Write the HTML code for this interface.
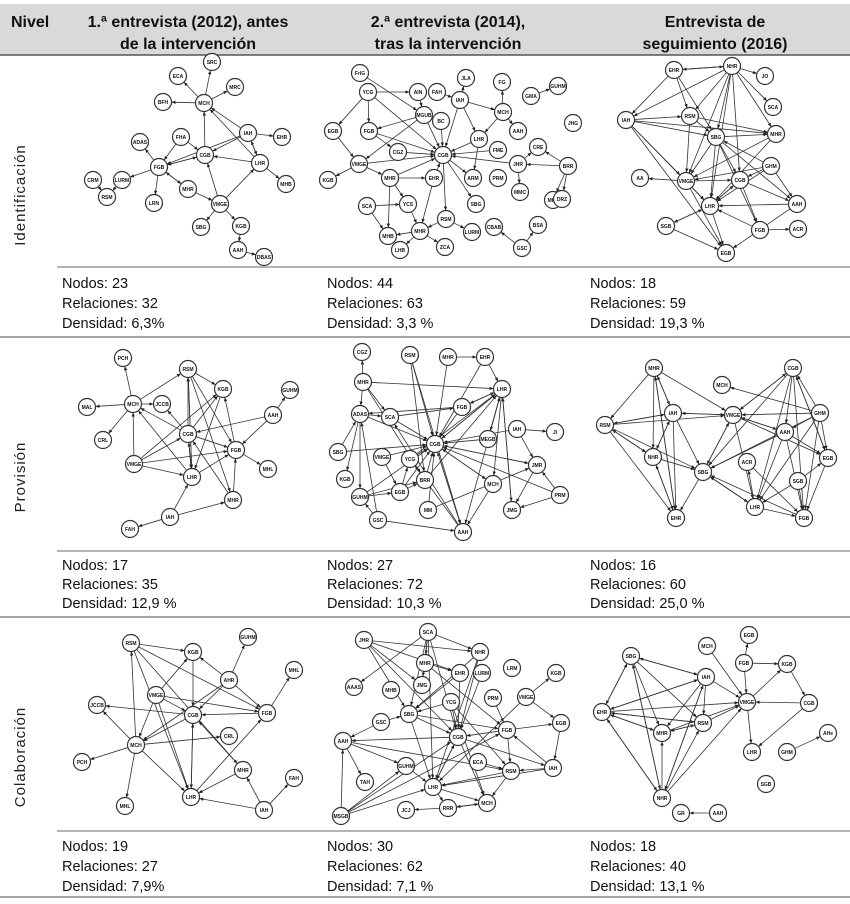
<!DOCTYPE html>
<html><head><meta charset="utf-8"><style>
html,body{margin:0;padding:0;background:#fff;}
svg{display:block;font-family:"Liberation Sans Narrow","Liberation Sans",sans-serif;}
.hd{font-weight:bold;font-size:16px;fill:#111;}
.st{font-size:14.5px;fill:#111;}
.rl{font-size:15px;fill:#222;letter-spacing:1px;}
.nd circle{fill:#fff;stroke:#333;stroke-width:1.2;}
.nd text{font-size:5px;font-weight:bold;fill:#111;text-anchor:middle;}
.ed{stroke:#333;stroke-width:0.8;fill:none;}
</style></head><body>
<svg id="root" width="850" height="904" viewBox="0 0 850 904">
<defs><marker id="ar" viewBox="0 0 6 6" refX="6" refY="3" markerWidth="5" markerHeight="5" orient="auto"><path d="M0,0.5 L6,3 L0,5.5 z" fill="#222"/></marker></defs>
<rect x="0" y="4" width="850" height="51" fill="#d9d9d9"/>
<line x1="0" y1="55" x2="850" y2="55" stroke="#555" stroke-width="1.5"/>
<text class="hd" x="11" y="27">Nivel</text>
<text class="hd" x="188" y="27" text-anchor="middle">1.ª entrevista (2012), antes<tspan x="188" y="49">de la intervención</tspan></text>
<text class="hd" x="448" y="27" text-anchor="middle">2.ª entrevista (2014),<tspan x="448" y="49">tras la intervención</tspan></text>
<text class="hd" x="715" y="27" text-anchor="middle">Entrevista de<tspan x="715" y="49">seguimiento (2016)</tspan></text>

<line x1="57" y1="267" x2="850" y2="267" stroke="#888" stroke-width="1.3"/>
<line x1="0" y1="337" x2="850" y2="337" stroke="#888" stroke-width="1.5"/>
<line x1="57" y1="551" x2="850" y2="551" stroke="#888" stroke-width="1.3"/>
<line x1="0" y1="617" x2="850" y2="617" stroke="#888" stroke-width="1.5"/>
<line x1="57" y1="831" x2="850" y2="831" stroke="#888" stroke-width="1.3"/>
<line x1="0" y1="897" x2="850" y2="897" stroke="#888" stroke-width="1.5"/>

<text class="rl" transform="translate(25,195) rotate(-90)" text-anchor="middle">Identificación</text>
<text class="rl" transform="translate(25,477) rotate(-90)" text-anchor="middle">Provisión</text>
<text class="rl" transform="translate(25,757) rotate(-90)" text-anchor="middle">Colaboración</text>

<g><text class="st" x="62" y="288">Nodos: 23</text><text class="st" x="62" y="308">Relaciones: 32</text><text class="st" x="62" y="328">Densidad: 6,3%</text></g>
<g><text class="st" x="327" y="288">Nodos: 44</text><text class="st" x="327" y="308">Relaciones: 63</text><text class="st" x="327" y="328">Densidad: 3,3 %</text></g>
<g><text class="st" x="590" y="288">Nodos: 18</text><text class="st" x="590" y="308">Relaciones: 59</text><text class="st" x="590" y="328">Densidad: 19,3 %</text></g>
<g><text class="st" x="62" y="570">Nodos: 17</text><text class="st" x="62" y="589">Relaciones: 35</text><text class="st" x="62" y="608">Densidad: 12,9 %</text></g>
<g><text class="st" x="327" y="570">Nodos: 27</text><text class="st" x="327" y="589">Relaciones: 72</text><text class="st" x="327" y="608">Densidad: 10,3 %</text></g>
<g><text class="st" x="590" y="570">Nodos: 16</text><text class="st" x="590" y="589">Relaciones: 60</text><text class="st" x="590" y="608">Densidad: 25,0 %</text></g>
<g><text class="st" x="62" y="851">Nodos: 19</text><text class="st" x="62" y="871">Relaciones: 27</text><text class="st" x="62" y="891">Densidad: 7,9%</text></g>
<g><text class="st" x="327" y="851">Nodos: 30</text><text class="st" x="327" y="871">Relaciones: 62</text><text class="st" x="327" y="891">Densidad: 7,1 %</text></g>
<g><text class="st" x="590" y="851">Nodos: 18</text><text class="st" x="590" y="871">Relaciones: 40</text><text class="st" x="590" y="891">Densidad: 13,1 %</text></g>
</svg>
<script>
// Node lists: [name, x, y]; edge lists: [from, to]
const n11=[["ECA",178,76],["SRC",212,62],["MRC",235,87],["BFH",163,102],["MCH",204,103],["FHA",181,137],["ADAS",140,142],["IAH",248,133],["EHR",282,137],["CGB",205,155],["FGB",159,167],["LHR",260,163],["LURM",122,180],["CRM",93,180],["RSM",107,197],["MHR",188,189],["MHB",286,184],["LRN",154,203],["VMGE",220,204],["SBG",201,227],["KGB",241,226],["AAH",238,250],["DBAS",264,257]];
const e11=[["MCH","ECA"],["MCH","SRC"],["MCH","MRC"],["MCH","BFH"],["CGB","MCH"],["FHA","CGB"],["FGB","ADAS"],["FGB","CGB"],["IAH","EHR"],["IAH","CGB"],["IAH","FGB"],["IAH","MCH"],["LHR","CGB"],["LHR","IAH"],["LHR","MHB"],["LHR","MCH"],["FGB","LURM"],["LURM","RSM"],["CRM","RSM"],["FGB","LRN"],["MHR","FGB"],["VMGE","CGB"],["VMGE","LHR"],["VMGE","SBG"],["VMGE","KGB"],["MHR","VMGE"],["KGB","AAH"],["AAH","DBAS"],["FHA","FGB"],["FGB","MHR"],["CGB","FGB"],["IAH","LHR"]];
const n12=[["FrIG",360,73],["YCG",368,92],["AIN",418,92],["FAH",437,92],["JLA",466,78],["IAH",460,100],["FG",502,82],["GUHM",558,86],["GMA",531,96],["MCH",503,112],["MGUB",424,115],["BC",441,121],["JHG",573,123],["EGB",333,131],["FGB",369,131],["AAH",518,131],["LHR",479,139],["CGZ",398,152],["CGB",443,155],["FME",498,150],["CRE",538,147],["VMGE",359,164],["JHR",518,164],["BRR",568,166],["KGB",328,180],["MHR",390,178],["EHR",434,178],["ARM",473,178],["PRM",498,178],["MMC",520,192],["MKZ",553,200],["DRZ",562,199],["SCA",367,206],["YCS",408,204],["SBG",476,204],["RSM",446,219],["MHB",388,236],["MHR2",420,231],["LURM",472,232],["CBAB",494,227],["BSA",538,225],["LHB",400,250],["ZCA",445,247],["GSC",522,248]];
const e12=[["FrIG","MGUB"],["YCG","AIN"],["YCG","FGB"],["YCG","EGB"],["YCG","CGB"],["AIN","MGUB"],["FAH","IAH"],["IAH","JLA"],["IAH","MCH"],["IAH","CGB"],["MCH","FG"],["MCH","AAH"],["MCH","LHR"],["GMA","GUHM"],["MGUB","FGB"],["MGUB","CGB"],["MGUB","VMGE"],["BC","CGB"],["EGB","VMGE"],["FGB","CGZ"],["FGB","CGB"],["CGZ","CGB"],["VMGE","KGB"],["VMGE","MHR"],["VMGE","CGB"],["LHR","CGB"],["LHR","ARM"],["FME","CGB"],["JHR","CGB"],["JHR","CRE"],["JHR","MMC"],["BRR","CRE"],["BRR","MKZ"],["BRR","DRZ"],["BRR","JHR"],["MHR","EHR"],["MHR","YCS"],["MHR","MHB"],["EHR","CGB"],["EHR","MHR2"],["CGB","SBG"],["CGB","ARM"],["CGB","RSM"],["SCA","YCS"],["SCA","MHB"],["MHR2","MHB"],["MHR2","LHB"],["MHR2","ZCA"],["RSM","MHR2"],["RSM","LURM"],["YCS","MHR2"],["GSC","CBAB"],["GSC","BSA"],["IAH","LHR"],["MHR","CGB"]];
const n13=[["EHR",674,70],["NHR",732,66],["JO",765,76],["RSM",690,116],["SCA",773,107],["IAH",626,120],["SBG",716,137],["MHR",776,134],["AA",640,178],["VMGE",686,181],["GHM",771,166],["CGB",740,180],["AAH",797,204],["LHR",710,206],["SGB",666,226],["FGB",760,230],["ACR",798,229],["EGB",726,253]];
const e13=[["EHR","NHR"],["NHR","EHR"],["EHR","IAH"],["EHR","RSM"],["EHR","SBG"],["NHR","JO"],["NHR","SCA"],["NHR","MHR"],["NHR","RSM"],["NHR","SBG"],["NHR","IAH"],["NHR","VMGE"],["NHR","LHR"],["NHR","CGB"],["IAH","RSM"],["IAH","SBG"],["IAH","MHR"],["IAH","VMGE"],["IAH","EGB"],["RSM","SBG"],["RSM","MHR"],["RSM","VMGE"],["SBG","MHR"],["SBG","VMGE"],["SBG","CGB"],["SBG","LHR"],["SBG","FGB"],["SBG","AAH"],["MHR","VMGE"],["MHR","LHR"],["VMGE","AA"],["VMGE","CGB"],["VMGE","LHR"],["VMGE","EGB"],["GHM","CGB"],["GHM","LHR"],["GHM","VMGE"],["GHM","AAH"],["GHM","SBG"],["CGB","LHR"],["CGB","AAH"],["CGB","FGB"],["AAH","LHR"],["AAH","EGB"],["LHR","SGB"],["LHR","CGB"],["SGB","EGB"],["SGB","LHR"],["FGB","ACR"],["FGB","LHR"],["LHR","EGB"],["IAH","LHR"]];
const n21=[["PCH",123,358],["RSM",188,369],["KGB",223,389],["GUHM",290,390],["MCH",133,404],["JCCB",162,404],["MAL",87,407],["AAH",273,415],["CGB",188,434],["CRL",103,440],["FGB",236,450],["VMGE",134,464],["MHL",268,469],["LHR",192,477],["MHR",233,500],["IAH",170,517],["FAH",130,529]];
const e21=[["MCH","PCH"],["MCH","MAL"],["MCH","JCCB"],["MCH","CRL"],["MCH","RSM"],["RSM","KGB"],["RSM","FGB"],["CGB","RSM"],["AAH","GUHM"],["AAH","CGB"],["AAH","FGB"],["CGB","MCH"],["CGB","KGB"],["VMGE","MCH"],["VMGE","CGB"],["VMGE","KGB"],["VMGE","FGB"],["VMGE","LHR"],["LHR","CGB"],["LHR","FGB"],["LHR","MCH"],["FGB","MHL"],["FGB","KGB"],["MHR","FGB"],["MHR","CGB"],["IAH","LHR"],["IAH","FAH"],["IAH","MHR"],["CGB","JCCB"],["LHR","RSM"],["KGB","LHR"],["CGB","LHR"],["RSM","MHR"],["CGB","FGB"],["RSM","LHR"]];
const n22=[["CGZ",362,352],["RSM",410,355],["MHR",448,357],["EHR",485,357],["MHR2",363,382],["LHR",502,389],["FGB",462,407],["ADAS",360,414],["SCA",390,417],["CGB",435,444],["MEGB",488,439],["IAH",517,429],["JI",555,432],["SBG",338,452],["VMGE",382,457],["YCG",410,459],["KGB",345,479],["JMR",537,465],["BRR",425,480],["EGB",400,492],["MCH",493,484],["GUHM",360,497],["PRM",560,495],["MM",428,510],["GSC",378,520],["JMG",512,510],["AAH",463,532]];
const e22=[["RSM","CGB"],["MHR","CGB"],["EHR","CGB"],["LHR","CGB"],["FGB","CGB"],["ADAS","CGB"],["SCA","CGB"],["MEGB","CGB"],["IAH","CGB"],["SBG","CGB"],["VMGE","CGB"],["YCG","CGB"],["JMR","CGB"],["BRR","CGB"],["EGB","CGB"],["MCH","CGB"],["PRM","CGB"],["AAH","CGB"],["MM","CGB"],["GUHM","CGB"],["MHR2","CGZ"],["MHR2","LHR"],["MHR2","ADAS"],["MHR","EHR"],["EHR","LHR"],["LHR","FGB"],["LHR","AAH"],["LHR","MEGB"],["LHR","JMG"],["IAH","JI"],["IAH","JMR"],["JMR","JMG"],["PRM","JMG"],["PRM","JMR"],["ADAS","SCA"],["ADAS","KGB"],["SBG","ADAS"],["GUHM","EGB"],["GSC","AAH"],["GSC","GUHM"],["EGB","BRR"],["VMGE","EGB"],["AAH","YCG"],["AAH","SCA"],["FGB","ADAS"],["MCH","AAH"],["BRR","LHR"],["YCG","LHR"],["RSM","AAH"],["CGB","LHR"],["FGB","LHR"],["MEGB","LHR"],["MHR2","SCA"],["MHR2","BRR"],["GSC","ADAS"],["ADAS","GUHM"],["SCA","FGB"],["CGB","JMR"],["CGB","AAH"],["JMG","LHR"],["MM","JMR"],["RSM","BRR"],["EGB","YCG"],["GUHM","BRR"],["CGB","MCH"],["LHR","MCH"]];
const n23=[["MHR",654,368],["MCH",722,385],["CGB",793,368],["IAH",673,413],["VMGE",733,415],["GHM",820,413],["RSM",605,425],["AAH",785,432],["NHR",653,457],["SBG",703,472],["ACR",747,462],["EGB",828,458],["SGB",798,481],["LHR",755,507],["FGB",804,518],["EHR",676,518]];
const e23=[["MHR","RSM"],["MHR","NHR"],["MHR","EHR"],["MHR","VMGE"],["MHR","IAH"],["IAH","VMGE"],["IAH","RSM"],["IAH","NHR"],["IAH","SBG"],["IAH","EHR"],["RSM","VMGE"],["RSM","SBG"],["RSM","EHR"],["NHR","RSM"],["NHR","SBG"],["VMGE","SBG"],["VMGE","AAH"],["VMGE","CGB"],["VMGE","EGB"],["GHM","MCH"],["GHM","VMGE"],["GHM","CGB"],["GHM","AAH"],["GHM","SBG"],["GHM","LHR"],["CGB","AAH"],["CGB","SBG"],["CGB","LHR"],["CGB","FGB"],["AAH","SBG"],["AAH","LHR"],["AAH","EGB"],["AAH","FGB"],["EGB","FGB"],["SGB","LHR"],["SGB","FGB"],["ACR","FGB"],["FGB","SBG"],["LHR","FGB"],["EGB","CGB"],["SBG","EHR"],["EHR","NHR"],["NHR","EHR"],["SBG","LHR"],["VMGE","LHR"],["GHM","FGB"],["CGB","EGB"],["IAH","MHR"],["RSM","IAH"],["VMGE","IAH"],["LHR","ACR"],["SBG","VMGE"],["AAH","VMGE"],["GHM","EGB"],["CGB","VMGE"],["NHR","IAH"],["EHR","MHR"],["RSM","NHR"],["SGB","EGB"],["LHR","SBG"]];
const n31=[["RSM",131,643],["KGB",193,652],["GUHM",248,637],["MHL",294,670],["AHR",229,680],["VMGE",156,695],["JCCB",97,705],["CGB",193,715],["FGB",267,713],["CRL",229,736],["MCH",136,745],["PCH",82,762],["MHR",243,770],["FAH",294,778],["MHL2",125,806],["LHR",191,797],["IAH",264,810]];
const e31=[["RSM","KGB"],["RSM","FGB"],["RSM","LHR"],["RSM","MHR"],["AHR","GUHM"],["AHR","KGB"],["AHR","FGB"],["AHR","CGB"],["VMGE","CGB"],["VMGE","MCH"],["VMGE","LHR"],["VMGE","FGB"],["VMGE","KGB"],["CGB","JCCB"],["FGB","CGB"],["FGB","MHL"],["CGB","MCH"],["MCH","RSM"],["MCH","PCH"],["MCH","MHL2"],["MCH","JCCB"],["MCH","CRL"],["MCH","LHR"],["CGB","LHR"],["LHR","CGB"],["MHR","CGB"],["MHR","LHR"],["LHR","FGB"],["IAH","LHR"],["IAH","FAH"],["IAH","MHR"],["KGB","CGB"],["AHR","MCH"]];
const n32=[["JHR",364,640],["SCA",428,632],["NHR",480,652],["MHR",425,663],["EHR",460,673],["LURM",482,673],["LRM",512,668],["KGB",556,673],["AAAS",354,687],["MHB",391,690],["JMG",422,685],["PRM",493,698],["VMGE",526,697],["YCG",451,702],["SBG",409,714],["GSC",381,722],["FGB",507,730],["EGB",561,723],["CGB",458,737],["AAH",343,741],["GUHM",406,766],["ECA",478,762],["RSM",511,771],["IAH",553,768],["TAH",365,782],["LHR",433,787],["MCH",487,803],["JCJ",406,810],["RRR",448,808],["MSGB",341,816]];
const e32=[["JHR","NHR"],["JHR","JMG"],["JHR","EHR"],["JHR","CGB"],["SCA","NHR"],["SCA","AAAS"],["SCA","SBG"],["SCA","CGB"],["SCA","LHR"],["SCA","MHR"],["MHR","EHR"],["NHR","LHR"],["NHR","SBG"],["EHR","CGB"],["LURM","CGB"],["PRM","FGB"],["VMGE","KGB"],["VMGE","EGB"],["VMGE","LHR"],["YCG","SBG"],["YCG","CGB"],["YCG","RSM"],["SBG","CGB"],["SBG","LHR"],["GSC","AAH"],["GSC","SBG"],["FGB","EGB"],["FGB","CGB"],["FGB","RSM"],["CGB","MCH"],["CGB","AAH"],["CGB","IAH"],["AAH","GUHM"],["AAH","TAH"],["MSGB","AAH"],["MSGB","LHR"],["MSGB","CGB"],["MSGB","FGB"],["MSGB","GUHM"],["GUHM","LHR"],["ECA","RSM"],["RSM","LHR"],["IAH","RSM"],["IAH","LHR"],["IAH","FGB"],["LHR","MCH"],["LHR","RRR"],["RRR","MCH"],["RRR","JCJ"],["MCH","RRR"],["RSM","MCH"],["EGB","IAH"],["SCA","JMG"],["NHR","CGB"],["JHR","SBG"],["MHR","FGB"],["CGB","LHR"],["SBG","FGB"],["AAH","RSM"],["LHR","CGB"],["EHR","SBG"],["YCG","MCH"]];
const n33=[["EGB",749,635],["MCH",707,646],["SBG",631,656],["FGB",744,663],["KGB",787,664],["IAH",706,677],["VMGE",747,702],["CGB",809,703],["EHR",602,712],["RSM",703,723],["MHR",662,733],["AHe",828,733],["LHR",752,752],["GHM",787,752],["SGB",766,784],["NHR",662,798],["GR",681,813],["AAH",718,813]];
const e33=[["SBG","EHR"],["SBG","MHR"],["SBG","RSM"],["SBG","NHR"],["IAH","SBG"],["IAH","VMGE"],["IAH","EHR"],["IAH","RSM"],["IAH","MHR"],["MCH","VMGE"],["FGB","EGB"],["FGB","KGB"],["FGB","VMGE"],["VMGE","KGB"],["VMGE","LHR"],["CGB","VMGE"],["CGB","LHR"],["KGB","CGB"],["EHR","MHR"],["EHR","RSM"],["EHR","VMGE"],["EHR","NHR"],["MHR","RSM"],["RSM","MHR"],["RSM","VMGE"],["MHR","VMGE"],["NHR","EHR"],["NHR","MHR"],["NHR","RSM"],["NHR","VMGE"],["NHR","IAH"],["NHR","SBG"],["GHM","AHe"],["AAH","GR"],["EHR","IAH"],["RSM","EHR"],["SBG","IAH"],["IAH","NHR"],["EHR","SBG"],["MHR","EHR"]];

const panels=[
 ["net-identificacion-2012",n11,e11],["net-identificacion-2014",n12,e12],["net-identificacion-2016",n13,e13],
 ["net-provision-2012",n21,e21],["net-provision-2014",n22,e22],["net-provision-2016",n23,e23],
 ["net-colaboracion-2012",n31,e31],["net-colaboracion-2014",n32,e32],["net-colaboracion-2016",n33,e33]];
const NS="http://www.w3.org/2000/svg";
const root=document.getElementById('root');
const R=8.5;
panels.forEach(p=>{
 const g=document.createElementNS(NS,'g');
 
 
 root.appendChild(g);
 const pos={};
 p[1].forEach(n=>{pos[n[0]]=[n[1],n[2]];});
 p[2].forEach(e=>{
  const a=pos[e[0]],b=pos[e[1]]; if(!a||!b) return;
  const dx=b[0]-a[0],dy=b[1]-a[1],d=Math.hypot(dx,dy)||1;
  const l=document.createElementNS(NS,'line');
  l.setAttribute('x1',a[0]+dx/d*R);l.setAttribute('y1',a[1]+dy/d*R);
  l.setAttribute('x2',b[0]-dx/d*R);l.setAttribute('y2',b[1]-dy/d*R);
  l.setAttribute('class','ed');l.setAttribute('marker-end','url(#ar)');
  
  
  g.appendChild(l);
 });
 p[1].forEach(n=>{
  const ng=document.createElementNS(NS,'g');
  ng.setAttribute('class','nd');
  
  
  const c=document.createElementNS(NS,'circle');
  c.setAttribute('cx',n[1]);c.setAttribute('cy',n[2]);c.setAttribute('r',R);
  const t=document.createElementNS(NS,'text');
  t.setAttribute('x',n[1]);t.setAttribute('y',n[2]+1.8);
  t.textContent=n[0].replace('MHR2','MHR').replace('MHL2','MHL');
  ng.appendChild(c);ng.appendChild(t);g.appendChild(ng);
 });
});
</script>
</body></html>
